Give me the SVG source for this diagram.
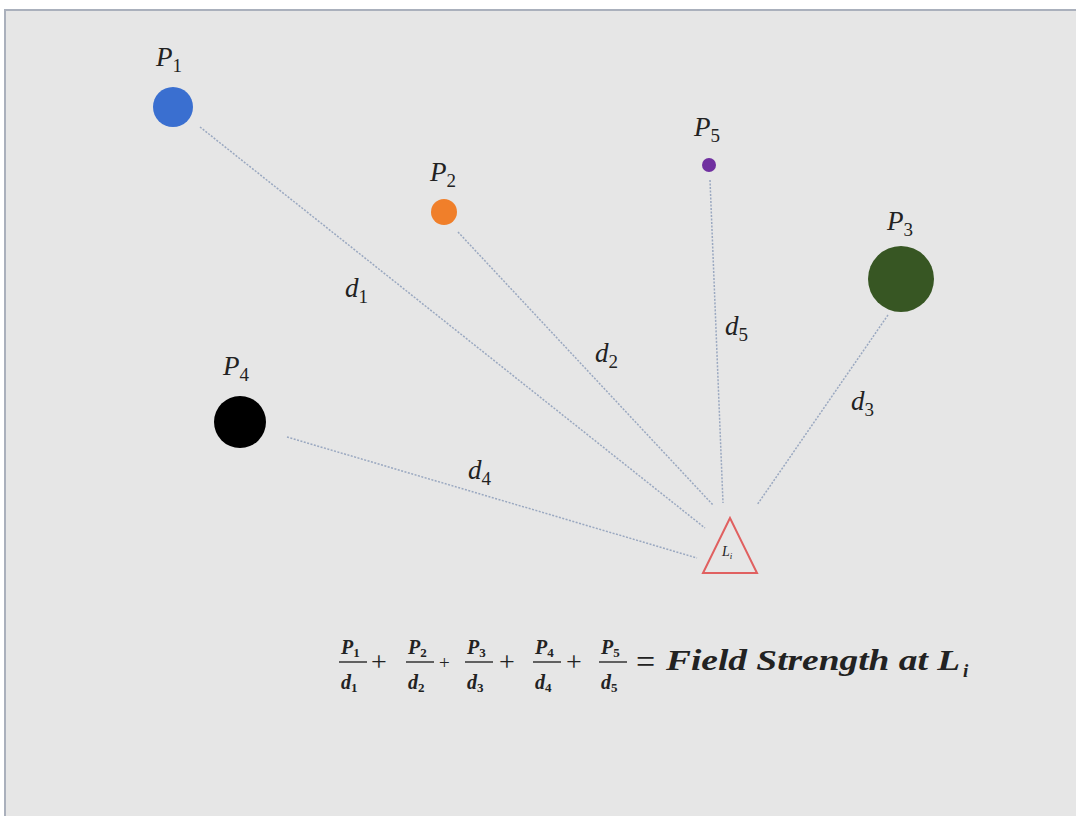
<svg xmlns="http://www.w3.org/2000/svg" width="1076" height="816" viewBox="0 0 1076 816">
<style>
.lbl{font-family:"Liberation Serif","DejaVu Serif",serif;font-style:italic;fill:#222;}
.big{font-size:27px;}
.sub{font-size:19px;font-style:normal;}
.s{font-style:normal;}
.conn line{stroke:#9aa8c0;stroke-width:1.5;stroke-dasharray:2 1.5;}
</style>
<rect x="0" y="0" width="1076" height="816" fill="#ffffff"/>
<rect x="5" y="10" width="1080" height="820" fill="#e6e6e6" stroke="#aab0bc" stroke-width="2"/>
<g id="connectors" class="conn">
<line x1="200" y1="127" x2="705" y2="528"/>
<line x1="458" y1="232" x2="713" y2="505"/>
<line x1="710" y1="180" x2="723" y2="503"/>
<line x1="888" y1="315" x2="757" y2="505"/>
<line x1="287" y1="437" x2="697" y2="558"/>
</g>
<g id="P1"><circle cx="173" cy="107" r="20" fill="#3a6fd0"/><text class="lbl big" x="156" y="66">P<tspan class="sub" dy="6">1</tspan></text></g>
<g id="P2"><circle cx="444" cy="212" r="13" fill="#f07f2a"/><text class="lbl big" x="430" y="181">P<tspan class="sub" dy="6">2</tspan></text></g>
<g id="P5"><circle cx="709" cy="165" r="7" fill="#7030a0"/><text class="lbl big" x="694" y="136">P<tspan class="sub" dy="6">5</tspan></text></g>
<g id="P3"><circle cx="901" cy="279" r="33" fill="#375623"/><text class="lbl big" x="887" y="230">P<tspan class="sub" dy="6">3</tspan></text></g>
<g id="P4"><circle cx="240" cy="422" r="26" fill="#000000"/><text class="lbl big" x="223" y="375">P<tspan class="sub" dy="6">4</tspan></text></g>
<g id="Li"><polygon points="730,518 703,573 757,573" fill="none" stroke="#e06060" stroke-width="2"/><text class="lbl" font-size="14" x="722" y="556">L<tspan font-size="9" dy="3">i</tspan></text></g>
<g id="dlabels">
<text class="lbl big" x="345" y="297">d<tspan class="sub" dy="6">1</tspan></text>
<text class="lbl big" x="595" y="362">d<tspan class="sub" dy="6">2</tspan></text>
<text class="lbl big" x="725" y="335">d<tspan class="sub" dy="6">5</tspan></text>
<text class="lbl big" x="851" y="410">d<tspan class="sub" dy="6">3</tspan></text>
<text class="lbl big" x="468" y="479">d<tspan class="sub" dy="6">4</tspan></text>
</g>
<g id="equation">
<g class="lbl" font-size="20" font-weight="bold">
<text x="341" y="654">P<tspan class="s" font-size="13" dy="3">1</tspan></text>
<text x="341" y="689">d<tspan class="s" font-size="13" dy="3">1</tspan></text>
<text x="408" y="654">P<tspan class="s" font-size="13" dy="3">2</tspan></text>
<text x="408" y="689">d<tspan class="s" font-size="13" dy="3">2</tspan></text>
<text x="467" y="654">P<tspan class="s" font-size="13" dy="3">3</tspan></text>
<text x="467" y="689">d<tspan class="s" font-size="13" dy="3">3</tspan></text>
<text x="535" y="654">P<tspan class="s" font-size="13" dy="3">4</tspan></text>
<text x="535" y="689">d<tspan class="s" font-size="13" dy="3">4</tspan></text>
<text x="601" y="654">P<tspan class="s" font-size="13" dy="3">5</tspan></text>
<text x="601" y="689">d<tspan class="s" font-size="13" dy="3">5</tspan></text>
</g>
<g stroke="#333" stroke-width="1.5">
<line x1="339" y1="662" x2="367" y2="662"/>
<line x1="406" y1="662" x2="434" y2="662"/>
<line x1="465" y1="662" x2="493" y2="662"/>
<line x1="533" y1="662" x2="561" y2="662"/>
<line x1="599" y1="662" x2="627" y2="662"/>
</g>
<g font-family="Liberation Serif,serif" fill="#222">
<text x="371" y="671" font-size="28">+</text>
<text x="439" y="669" font-size="19">+</text>
<text x="499" y="671" font-size="28">+</text>
<text x="566" y="671" font-size="28">+</text>
</g>
<text font-family="Liberation Serif,serif" fill="#222" font-size="34" x="636" y="673">=</text>
<text class="lbl" font-size="29" font-weight="bold" x="666" y="670" textLength="294" lengthAdjust="spacingAndGlyphs">Field Strength at L</text>
<text class="lbl" font-size="19" font-weight="bold" x="963" y="677">i</text>
</g>
</svg>
